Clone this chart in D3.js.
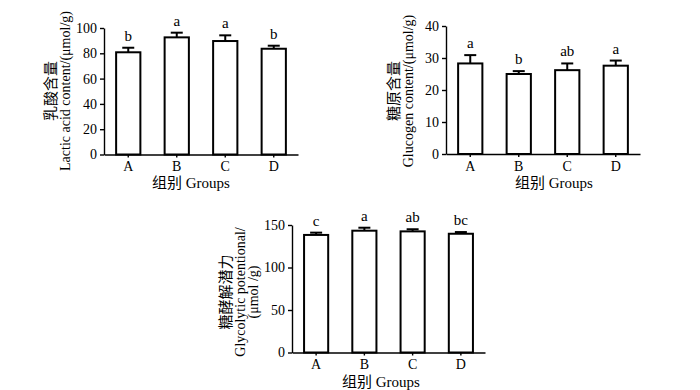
<!DOCTYPE html>
<html lang="zh">
<head>
  <meta charset="utf-8">
  <title>Lactic acid, glucogen and glycolytic potential</title>
  <style>
    body { margin: 0; background: #fff; }
    svg { display: block; font-family: "Liberation Serif", "Noto Sans CJK SC", serif; }
    .axis path, .axis line { stroke: #000; stroke-width: 1.4px; }
    .axis text { font-size: 14px; fill: #000; font-family: "Liberation Serif", serif; }
    .bar { fill: #fff; stroke: #000; stroke-width: 2px; }
    .err { stroke: #000; stroke-width: 2px; fill: none; }
  </style>
</head>
<body>
  <svg id="chart" width="700" height="390"></svg>

  <script src="https://d3js.org/d3.v7.min.js"></script>
  <script>
    // values
    const groups = ["A", "B", "C", "D"];

    const lacticMean = [80.8, 92.6, 89.7, 83.6];
    const lacticErr = [3.6, 3.7, 4.5, 2.4];
    const lacticSig = ["b", "a", "a", "b"];

    const glucogenMean = [28.3, 25.0, 26.2, 27.6];
    const glucogenErr = [2.6, 0.9, 2.1, 1.6];
    const glucogenSig = ["a", "b", "ab", "a"];

    const glycolyticMean = [138.3, 143.3, 142.5, 139.7];
    const glycolyticErr = [2.7, 3.5, 2.5, 2.0];
    const glycolyticSig = ["c", "a", "ab", "bc"];

    const svg = d3.select("#chart");

    function drawPanel(opts) {
      const { x0, x1, yTop, yBottom, yMax, yStep, means, errs, sig, cnLabel, enLabel, labelX, labelY, titleX, titleY } = opts;

      const g = svg.append("g");

      const x = d3.scaleBand()
        .domain(groups)
        .range([x0, x1])
        .paddingInner(0.5)
        .paddingOuter(0.25);

      const y = d3.scaleLinear()
        .domain([0, yMax])
        .range([yBottom, yTop]);

      // bars
      g.selectAll("rect.bar")
        .data(groups)
        .join("rect")
        .attr("class", "bar")
        .attr("x", d => x(d))
        .attr("width", x.bandwidth())
        .attr("y", (d, i) => y(means[i]))
        .attr("height", (d, i) => y(0) - y(means[i]));

      // error bars (upper only)
      const cap = 6;
      groups.forEach((d, i) => {
        const cx = x(d) + x.bandwidth() / 2;
        g.append("line").attr("class", "err")
          .attr("x1", cx).attr("x2", cx)
          .attr("y1", y(means[i])).attr("y2", y(means[i] + errs[i]));
        g.append("line").attr("class", "err")
          .attr("x1", cx - cap).attr("x2", cx + cap)
          .attr("y1", y(means[i] + errs[i])).attr("y2", y(means[i] + errs[i]));
        g.append("text")
          .attr("x", cx)
          .attr("y", y(means[i] + errs[i]) - 7)
          .attr("text-anchor", "middle")
          .attr("font-size", 15)
          .text(sig[i]);
      });

      // axes
      g.append("g")
        .attr("class", "axis")
        .attr("transform", `translate(${x0},0)`)
        .call(d3.axisLeft(y).tickValues(d3.range(0, yMax + 1, yStep)).tickSize(4).tickSizeOuter(0).tickPadding(3));

      g.append("g")
        .attr("class", "axis")
        .attr("transform", `translate(0,${yBottom})`)
        .call(d3.axisBottom(x).tickSize(3).tickSizeOuter(0).tickPadding(4));

      // y title, one rotated text per line
      const lines = [cnLabel].concat(enLabel);
      lines.forEach((t, k) => {
        g.append("text")
          .attr("transform", `translate(${labelX + k * 13 + (k > 0 ? 1 : 0)},${labelY}) rotate(-90)`)
          .attr("text-anchor", "middle")
          .attr("font-size", k === 0 ? 15 : 14)
          .attr("font-family", k === 0 ? "'Noto Sans CJK SC', sans-serif" : "'Liberation Serif', serif")
          .text(t);
      });

      // x title
      g.append("text")
        .attr("x", titleX)
        .attr("y", titleY)
        .attr("text-anchor", "middle")
        .attr("font-size", 15)
        .text("组别 Groups");
    }

    drawPanel({
      x0: 104, x1: 298, yTop: 28, yBottom: 154.5, yMax: 100, yStep: 20,
      means: lacticMean, errs: lacticErr, sig: lacticSig,
      cnLabel: "乳酸含量", enLabel: ["Lactic acid content/(μmol/g)"],
      labelX: 56, labelY: 91, titleX: 191, titleY: 188
    });

    drawPanel({
      x0: 446, x1: 640, yTop: 26, yBottom: 154, yMax: 40, yStep: 10,
      means: glucogenMean, errs: glucogenErr, sig: glucogenSig,
      cnLabel: "糖原含量", enLabel: ["Glucogen content/(μmol/g)"],
      labelX: 399, labelY: 91, titleX: 554, titleY: 188
    });

    drawPanel({
      x0: 292, x1: 485, yTop: 225, yBottom: 352.5, yMax: 150, yStep: 50,
      means: glycolyticMean, errs: glycolyticErr, sig: glycolyticSig,
      cnLabel: "糖酵解潜力", enLabel: ["Glycolytic potentional/", "(μmol /g)"],
      labelX: 231, labelY: 292, titleX: 381, titleY: 387
    });
  </script>
</body>
</html>
